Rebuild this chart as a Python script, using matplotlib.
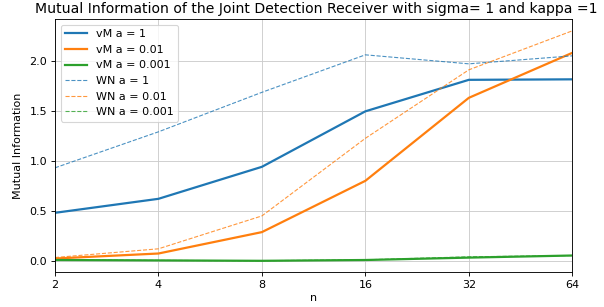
import matplotlib
matplotlib.use("Agg")
import matplotlib.pyplot as plt
from matplotlib.ticker import FixedLocator, FixedFormatter, NullLocator

n = [2, 4, 8, 16, 32, 64]
vm_1 = [0.48, 0.62, 0.94, 1.495, 1.81, 1.815]
vm_001 = [0.023, 0.073, 0.287, 0.80, 1.63, 2.08]
vm_0001 = [0.008, 0.004, 0.0, 0.008, 0.032, 0.053]
wn_1 = [0.93, 1.29, 1.685, 2.06, 1.97, 2.05]
wn_001 = [0.033, 0.12, 0.449, 1.225, 1.91, 2.30]
wn_0001 = [0.01, 0.004, 0.001, 0.01, 0.04, 0.053]

DPI = 80
fig = plt.figure(figsize=(604 / DPI, 307 / DPI), dpi=DPI)
ax = fig.add_axes([0.091, 0.113, 0.8565, 0.824])

c = ['#1f77b4', '#ff7f0e', '#2ca02c']
ax.plot(n, vm_1, color=c[0], lw=2, label='vM a = 1')
ax.plot(n, vm_001, color=c[1], lw=2, label='vM a = 0.01')
ax.plot(n, vm_0001, color=c[2], lw=2, label='vM a = 0.001')
ax.plot(n, wn_1, color=c[0], lw=1, ls='--', alpha=0.8, label='WN a = 1')
ax.plot(n, wn_001, color=c[1], lw=1, ls='--', alpha=0.8, label='WN a = 0.01')
ax.plot(n, wn_0001, color=c[2], lw=1, ls='--', alpha=0.8, label='WN a = 0.001')

ax.set_xscale('log', base=2)
ax.xaxis.set_major_locator(FixedLocator(n))
ax.xaxis.set_major_formatter(FixedFormatter([str(v) for v in n]))
ax.xaxis.set_minor_locator(NullLocator())
ax.set_xlim(2, 64)
ax.grid(True, color='#cccccc', lw=0.8)
ax.set_xlabel('n', labelpad=3)
ax.set_ylabel('Mutual Information', labelpad=6)
ax.set_title('Mutual Information of the Joint Detection Receiver with sigma= 1 and kappa =1',
             fontsize=12.6, x=0.505)
ax.legend(loc='upper left')
fig.savefig('out.png', dpi=DPI)
